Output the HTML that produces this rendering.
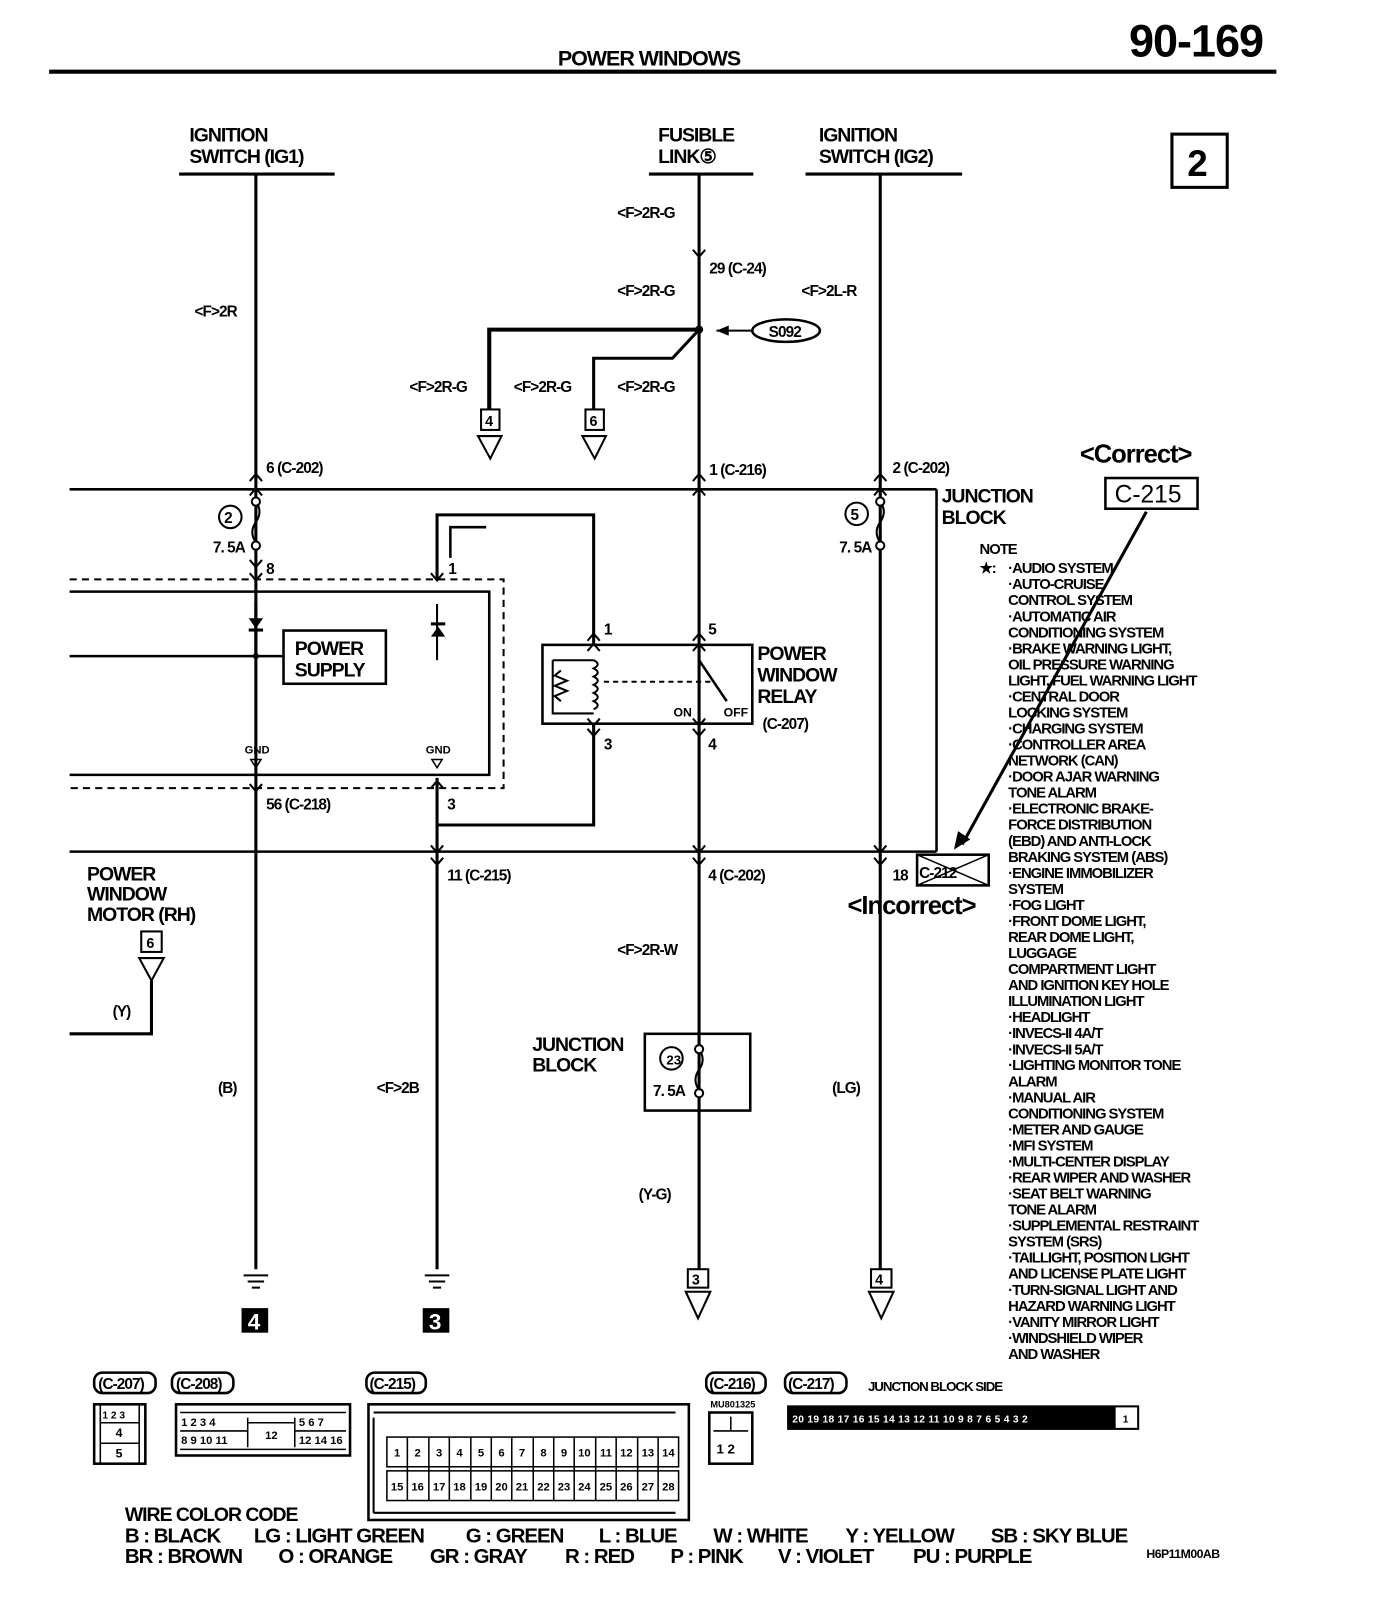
<!DOCTYPE html>
<html><head><meta charset="utf-8"><style>
html,body{margin:0;padding:0;background:#fff;}
svg{display:block;}
text{font-family:"Liberation Sans",sans-serif;font-weight:bold;fill:#000;}
.t{font-size:19px;letter-spacing:-1px;}
.s{font-size:15px;letter-spacing:-0.9px;}
.n{font-size:14.5px;letter-spacing:-1px;}
.w{font-size:20px;letter-spacing:-1px;}
.p{font-size:11px;text-anchor:middle;}
</style></head><body>
<svg width="1392" height="1606" viewBox="0 0 1360 1569" xmlns="http://www.w3.org/2000/svg">
<rect width="1360" height="1569" fill="#fff"/>
<g fill="none" stroke="#000">
<line x1="48" y1="70" x2="1247" y2="70" stroke-width="4"/>
<rect x="1145" y="131" width="54" height="52" stroke-width="3"/>
<line x1="175" y1="170" x2="327" y2="170" stroke-width="3"/>
<line x1="634" y1="170" x2="736" y2="170" stroke-width="3"/>
<line x1="787" y1="170" x2="940" y2="170" stroke-width="3"/>
<line x1="250" y1="170" x2="250" y2="1240" stroke-width="3"/>
<line x1="683" y1="170" x2="683" y2="1240" stroke-width="3"/>
<line x1="860" y1="170" x2="860" y2="1240" stroke-width="3"/>
<line x1="427" y1="760" x2="427" y2="1240" stroke-width="3"/>
<line x1="68" y1="478" x2="915" y2="478" stroke-width="2.5"/>
<line x1="915" y1="478" x2="915" y2="832" stroke-width="2.5"/>
<line x1="68" y1="832" x2="915" y2="832" stroke-width="2.5"/>
<path d="M68 566 H492 V770 H68" stroke-width="2" stroke-dasharray="7,5"/>
<path d="M68 578 H478 V757 H68" stroke-width="2.5"/>
<line x1="68" y1="641" x2="277" y2="641" stroke-width="2.5"/>
<rect x="277" y="616" width="100" height="52" stroke-width="2.5"/>
<line x1="250" y1="588" x2="250" y2="641" stroke-width="3"/>
<path d="M427 566 V503 H580 V630" stroke-width="3"/>
<path d="M440 545 V515 H475" stroke-width="2.5"/>
<path d="M427 590 V645" stroke-width="2"/>
<path d="M580 707 V806 H427" stroke-width="3"/>
<rect x="530" y="630" width="205" height="77" stroke-width="2.5"/>
<path d="M540 645 V697 H580 M540 645 H580" stroke-width="2"/>
<path d="M548 655 l-6 5 l12 5 l-12 5 l12 5 l-12 5 l6 5" stroke-width="2"/>
<path d="M580 645 q8 4 0 8 q8 4 0 8 q8 4 0 8 q8 4 0 8 q8 4 0 8 q8 4 0 8" stroke-width="2"/>
<line x1="590" y1="666" x2="695" y2="666" stroke-width="2" stroke-dasharray="5,4"/>
<line x1="683" y1="645" x2="710" y2="685" stroke-width="2.5"/>
<path d="M683 322 H478 V400" stroke-width="4"/>
<path d="M683 322 L657 350 H580 V400" stroke-width="3"/>
<ellipse cx="768" cy="323" rx="33" ry="11" stroke-width="2.5"/>
<line x1="735" y1="323" x2="700" y2="323" stroke-width="2"/>
<rect x="470" y="400" width="18" height="20" stroke-width="2"/>
<rect x="572" y="400" width="18" height="20" stroke-width="2"/>
<path d="M467 426 H490 L479 448 Z M569 426 H592 L581 448 Z" stroke-width="2"/>
<path d="M250 490 q7 10 0 20 q-7 10 0 20" stroke-width="2"/>
<path d="M860 490 q7 10 0 20 q-7 10 0 20" stroke-width="2"/>
<path d="M683 1025 q7 10 0 20 q-7 10 0 20" stroke-width="2"/>
<rect x="630" y="1010" width="103" height="75" stroke-width="2.5"/>
<rect x="138" y="910" width="20" height="20" stroke-width="2"/>
<path d="M136 936 H160 L148 958 Z" stroke-width="2"/>
<path d="M148 958 V1010 H68" stroke-width="3"/>
<rect x="672" y="1240" width="20" height="18" stroke-width="2"/>
<rect x="851" y="1240" width="20" height="18" stroke-width="2"/>
<path d="M670 1262 H694 L682 1288 Z M849 1262 H873 L861 1288 Z" stroke-width="2"/>
<path d="M238 1246 H262 M242 1252 H258 M246 1258 H254 M415 1246 H439 M419 1252 H435 M423 1258 H431" stroke-width="2"/>
<line x1="1120" y1="500" x2="940" y2="825" stroke-width="3"/>
<rect x="1080" y="467" width="90" height="30" stroke-width="2.5"/>
<rect x="896" y="835" width="70" height="30" stroke-width="2.5"/>
<path d="M896 835 L966 865 M966 835 L896 865" stroke-width="1.5"/>
<path d="M677 244 l6 7 l6 -7 M244 470 l6 -7 l6 7 M244 484 l6 -7 l6 7 M677 470 l6 -7 l6 7 M677 484 l6 -7 l6 7 M854 470 l6 -7 l6 7 M854 484 l6 -7 l6 7
M244 547 l6 7 l6 -7 M244 560 l6 7 l6 -7 M421 560 l6 7 l6 -7 M574 626 l6 -7 l6 7 M574 636 l6 -7 l6 7 M677 626 l6 -7 l6 7 M677 636 l6 -7 l6 7
M574 702 l6 7 l6 -7 M574 712 l6 7 l6 -7 M677 702 l6 7 l6 -7 M677 712 l6 7 l6 -7 M244 766 l6 7 l6 -7 M421 770 l6 -7 l6 7
M421 826 l6 7 l6 -7 M421 838 l6 7 l6 -7 M677 826 l6 7 l6 -7 M677 838 l6 7 l6 -7 M854 826 l6 7 l6 -7 M854 838 l6 7 l6 -7" stroke-width="2"/>
</g>
<g fill="#000">
<circle cx="250" cy="490" r="4" fill="#fff" stroke="#000" stroke-width="2"/>
<circle cx="250" cy="533" r="4" fill="#fff" stroke="#000" stroke-width="2"/>
<circle cx="860" cy="490" r="4" fill="#fff" stroke="#000" stroke-width="2"/>
<circle cx="860" cy="533" r="4" fill="#fff" stroke="#000" stroke-width="2"/>
<circle cx="683" cy="1025" r="4" fill="#fff" stroke="#000" stroke-width="2"/>
<circle cx="683" cy="1068" r="4" fill="#fff" stroke="#000" stroke-width="2"/>
<circle cx="683" cy="322" r="4"/>
<circle cx="250" cy="641" r="3"/>
<polygon points="243,604 257,604 250,614"/><rect x="243" y="614" width="14" height="3"/>
<polygon points="421,622 435,622 428,612"/><rect x="421" y="608" width="14" height="3"/>
<polygon points="700,323 712,318 712,328"/>
<polygon points="932,830 936,812 948,820"/>
<rect x="236" y="1278" width="26" height="24"/>
<rect x="413" y="1278" width="26" height="24"/>
<circle cx="225" cy="505" r="11" fill="#fff" stroke="#000" stroke-width="2"/>
<circle cx="837" cy="502" r="11" fill="#fff" stroke="#000" stroke-width="2"/>
<circle cx="656" cy="1034" r="11" fill="#fff" stroke="#000" stroke-width="2"/>
</g>
<text x="545" y="64" class="t" style="font-size:21px">POWER WINDOWS</text>
<text x="1103" y="55" style="font-size:44px;letter-spacing:-1px">90-169</text>
<text x="1160" y="172" style="font-size:36px">2</text>
<text x="185" y="138" class="t">IGNITION</text><text x="185" y="159" class="t">SWITCH (IG1)</text>
<text x="643" y="138" class="t">FUSIBLE</text><text x="643" y="159" class="t">LINK⑤</text>
<text x="800" y="138" class="t">IGNITION</text><text x="800" y="159" class="t">SWITCH (IG2)</text>
<text x="603" y="213" class="s">&lt;F&gt;2R-G</text>
<text x="693" y="267" class="s">29 (C-24)</text>
<text x="603" y="289" class="s">&lt;F&gt;2R-G</text>
<text x="783" y="289" class="s">&lt;F&gt;2L-R</text>
<text x="190" y="309" class="s">&lt;F&gt;2R</text>
<text x="751" y="329" class="s">S092</text>
<text x="400" y="383" class="s">&lt;F&gt;2R-G</text>
<text x="502" y="383" class="s">&lt;F&gt;2R-G</text>
<text x="603" y="383" class="s">&lt;F&gt;2R-G</text>
<text x="474" y="416" style="font-size:14px">4</text>
<text x="576" y="416" style="font-size:14px">6</text>
<text x="260" y="462" class="s">6 (C-202)</text>
<text x="693" y="464" class="s">1 (C-216)</text>
<text x="872" y="462" class="s">2 (C-202)</text>
<text x="1055" y="452" style="font-size:25px;letter-spacing:-1px">&lt;Correct&gt;</text>
<text x="1089" y="491" style="font-size:24px;font-weight:normal">C-215</text>
<text x="920" y="491" class="t">JUNCTION</text><text x="920" y="512" class="t">BLOCK</text>
<text x="219" y="511" style="font-size:15px">2</text>
<text x="831" y="508" style="font-size:15px">5</text>
<text x="208" y="540" class="s">7. 5A</text>
<text x="820" y="540" class="s">7. 5A</text>
<text x="260" y="561" class="s">8</text>
<text x="438" y="561" class="s">1</text>
<text x="288" y="640" class="t">POWER</text><text x="288" y="661" class="t">SUPPLY</text>
<text x="590" y="620" class="s">1</text><text x="692" y="620" class="s">5</text>
<text x="740" y="645" class="t">POWER</text><text x="740" y="666" class="t">WINDOW</text><text x="740" y="687" class="t">RELAY</text>
<text x="658" y="700" style="font-size:12px">ON</text><text x="707" y="700" style="font-size:12px">OFF</text>
<text x="745" y="712" class="s">(C-207)</text>
<text x="590" y="732" class="s">3</text><text x="692" y="732" class="s">4</text>
<text x="239" y="736" style="font-size:11px">GND</text><text x="416" y="736" style="font-size:11px">GND</text>
<polygon points="245,742 255,742 250,750" fill="none" stroke="#000" stroke-width="1.5"/>
<polygon points="422,742 432,742 427,750" fill="none" stroke="#000" stroke-width="1.5"/>
<text x="260" y="791" class="s">56 (C-218)</text>
<text x="437" y="791" class="s">3</text>
<text x="437" y="860" class="s">11 (C-215)</text>
<text x="692" y="860" class="s">4 (C-202)</text>
<text x="872" y="860" class="s">18</text>
<text x="898" y="858" class="s">C-212</text>
<text x="828" y="893" style="font-size:25px;letter-spacing:-1px">&lt;Incorrect&gt;</text>
<text x="85" y="860" class="t">POWER</text><text x="85" y="880" class="t">WINDOW</text><text x="85" y="900" class="t">MOTOR (RH)</text>
<text x="143" y="926" style="font-size:14px">6</text>
<text x="110" y="993" class="s">(Y)</text>
<text x="603" y="933" class="s">&lt;F&gt;2R-W</text>
<text x="520" y="1027" class="t">JUNCTION</text><text x="520" y="1047" class="t">BLOCK</text>
<text x="651" y="1040" style="font-size:13px">23</text>
<text x="638" y="1071" class="s">7. 5A</text>
<text x="213" y="1068" class="s">(B)</text>
<text x="368" y="1068" class="s">&lt;F&gt;2B</text>
<text x="813" y="1068" class="s">(LG)</text>
<text x="624" y="1172" class="s">(Y-G)</text>
<text x="676" y="1255" style="font-size:14px">3</text>
<text x="855" y="1255" style="font-size:14px">4</text>
<text x="242" y="1299" style="font-size:22px;fill:#fff">4</text>
<text x="419" y="1299" style="font-size:22px;fill:#fff">3</text>
<text x="957" y="541" class="n">NOTE</text>
<text x="957" y="560" class="n">★:</text>
<text x="985" y="560" class="n">·AUDIO SYSTEM</text>
<text x="985" y="575.6" class="n">·AUTO-CRUISE</text>
<text x="985" y="591.3" class="n">CONTROL SYSTEM</text>
<text x="985" y="607" class="n">·AUTOMATIC AIR</text>
<text x="985" y="622.6" class="n">CONDITIONING SYSTEM</text>
<text x="985" y="638.3" class="n">·BRAKE WARNING LIGHT,</text>
<text x="985" y="654" class="n">OIL PRESSURE WARNING</text>
<text x="985" y="669.6" class="n">LIGHT, FUEL WARNING LIGHT</text>
<text x="985" y="685.3" class="n">·CENTRAL DOOR</text>
<text x="985" y="701" class="n">LOCKING SYSTEM</text>
<text x="985" y="716.6" class="n">·CHARGING SYSTEM</text>
<text x="985" y="732.3" class="n">·CONTROLLER AREA</text>
<text x="985" y="748" class="n">NETWORK (CAN)</text>
<text x="985" y="763.6" class="n">·DOOR AJAR WARNING</text>
<text x="985" y="779.3" class="n">TONE ALARM</text>
<text x="985" y="795" class="n">·ELECTRONIC BRAKE-</text>
<text x="985" y="810.6" class="n">FORCE DISTRIBUTION</text>
<text x="985" y="826.3" class="n">(EBD) AND ANTI-LOCK</text>
<text x="985" y="842" class="n">BRAKING SYSTEM (ABS)</text>
<text x="985" y="857.6" class="n">·ENGINE IMMOBILIZER</text>
<text x="985" y="873.3" class="n">SYSTEM</text>
<text x="985" y="889" class="n">·FOG LIGHT</text>
<text x="985" y="904.6" class="n">·FRONT DOME LIGHT,</text>
<text x="985" y="920.3" class="n">REAR DOME LIGHT,</text>
<text x="985" y="936" class="n">LUGGAGE</text>
<text x="985" y="951.6" class="n">COMPARTMENT LIGHT</text>
<text x="985" y="967.3" class="n">AND IGNITION KEY HOLE</text>
<text x="985" y="983" class="n">ILLUMINATION LIGHT</text>
<text x="985" y="998.6" class="n">·HEADLIGHT</text>
<text x="985" y="1014.3" class="n">·INVECS-II 4A/T</text>
<text x="985" y="1030" class="n">·INVECS-II 5A/T</text>
<text x="985" y="1045.6" class="n">·LIGHTING MONITOR TONE</text>
<text x="985" y="1061.3" class="n">ALARM</text>
<text x="985" y="1077" class="n">·MANUAL AIR</text>
<text x="985" y="1092.6" class="n">CONDITIONING SYSTEM</text>
<text x="985" y="1108.3" class="n">·METER AND GAUGE</text>
<text x="985" y="1124" class="n">·MFI SYSTEM</text>
<text x="985" y="1139.6" class="n">·MULTI-CENTER DISPLAY</text>
<text x="985" y="1155.3" class="n">·REAR WIPER AND WASHER</text>
<text x="985" y="1171" class="n">·SEAT BELT WARNING</text>
<text x="985" y="1186.6" class="n">TONE ALARM</text>
<text x="985" y="1202.3" class="n">·SUPPLEMENTAL RESTRAINT</text>
<text x="985" y="1218" class="n">SYSTEM (SRS)</text>
<text x="985" y="1233.6" class="n">·TAILLIGHT, POSITION LIGHT</text>
<text x="985" y="1249.3" class="n">AND LICENSE PLATE LIGHT</text>
<text x="985" y="1265" class="n">·TURN-SIGNAL LIGHT AND</text>
<text x="985" y="1280.6" class="n">HAZARD WARNING LIGHT</text>
<text x="985" y="1296.3" class="n">·VANITY MIRROR LIGHT</text>
<text x="985" y="1312" class="n">·WINDSHIELD WIPER</text>
<text x="985" y="1327.6" class="n">AND WASHER</text>
<g fill="none" stroke="#000" stroke-width="2.5">
<rect x="92" y="1341" width="60" height="20" rx="8"/>
<rect x="168" y="1341" width="60" height="20" rx="8"/>
<rect x="358" y="1341" width="58" height="20" rx="8"/>
<rect x="690" y="1341" width="58" height="20" rx="8"/>
<rect x="767" y="1341" width="60" height="20" rx="8"/>
<rect x="92" y="1372" width="50" height="58"/>
<path d="M98 1372 V1430 M136 1372 V1430 M98 1390 H136 M98 1410 H136" stroke-width="1.5"/>
<rect x="172" y="1372" width="170" height="50"/>
<path d="M176 1380 H338 M176 1416 H338 M176 1398 H242 M288 1398 H338 M242 1385 V1414 M288 1385 V1414 M242 1390 H288" stroke-width="1.5"/>
<rect x="360" y="1372" width="313" height="113"/>
<rect x="378" y="1404" width="285" height="29" stroke-width="1.5"/>
<rect x="378" y="1437" width="285" height="29" stroke-width="1.5"/>
<path d="M398 1404 V1466 M419 1404 V1466 M439 1404 V1466 M460 1404 V1466 M480 1404 V1466 M500 1404 V1466 M521 1404 V1466 M541 1404 V1466 M561 1404 V1466 M582 1404 V1466 M602 1404 V1466 M623 1404 V1466 M643 1404 V1466" stroke-width="1.5"/>
<path d="M365 1380 H660 M365 1478 H660 M365 1385 V1478" stroke-width="2"/>
<rect x="693" y="1380" width="42" height="50"/>
<path d="M697 1398 H731 M714 1384 V1398" stroke-width="1.5"/>
<rect x="770" y="1374" width="342" height="22" stroke-width="2"/>
</g>
<rect x="770" y="1374" width="320" height="22" fill="#000"/>
<text x="96" y="1357" class="s">(C-207)</text>
<text x="172" y="1357" class="s">(C-208)</text>
<text x="361" y="1357" class="s">(C-215)</text>
<text x="693" y="1357" class="s">(C-216)</text>
<text x="770" y="1357" class="s">(C-217)</text>
<text x="848" y="1359" style="font-size:13px;letter-spacing:-1px">JUNCTION BLOCK SIDE</text>
<text x="694" y="1375" style="font-size:9px">MU801325</text>
<text x="100" y="1386" style="font-size:10px">1 2 3</text>
<text x="113" y="1404" style="font-size:12px">4</text>
<text x="113" y="1424" style="font-size:12px">5</text>
<text x="177" y="1393" style="font-size:11px">1 2 3 4</text>
<text x="177" y="1411" style="font-size:11px">8 9 10 11</text>
<text x="259" y="1406" style="font-size:11px">12</text>
<text x="292" y="1393" style="font-size:11px">5 6 7</text>
<text x="292" y="1411" style="font-size:11px">12 14 16</text>
<text x="388" y="1423" class="p">1</text><text x="408" y="1423" class="p">2</text><text x="429" y="1423" class="p">3</text><text x="449" y="1423" class="p">4</text><text x="470" y="1423" class="p">5</text><text x="490" y="1423" class="p">6</text><text x="510" y="1423" class="p">7</text><text x="531" y="1423" class="p">8</text><text x="551" y="1423" class="p">9</text><text x="571" y="1423" class="p">10</text><text x="592" y="1423" class="p">11</text><text x="612" y="1423" class="p">12</text><text x="633" y="1423" class="p">13</text><text x="653" y="1423" class="p">14</text>
<text x="388" y="1456" class="p">15</text><text x="408" y="1456" class="p">16</text><text x="429" y="1456" class="p">17</text><text x="449" y="1456" class="p">18</text><text x="470" y="1456" class="p">19</text><text x="490" y="1456" class="p">20</text><text x="510" y="1456" class="p">21</text><text x="531" y="1456" class="p">22</text><text x="551" y="1456" class="p">23</text><text x="571" y="1456" class="p">24</text><text x="592" y="1456" class="p">25</text><text x="612" y="1456" class="p">26</text><text x="633" y="1456" class="p">27</text><text x="653" y="1456" class="p">28</text>
<text x="700" y="1420" style="font-size:13px">1 2</text>
<text x="774" y="1390" style="font-size:10px;fill:#fff;letter-spacing:0.3px">20 19 18 17 16 15 14 13 12 11 10 9 8 7 6 5 4 3 2</text>
<text x="1097" y="1390" style="font-size:10px">1</text>
<text x="122" y="1486" class="t">WIRE COLOR CODE</text>
<text x="122" y="1507" class="w">B : BLACK</text>
<text x="248" y="1507" class="w">LG : LIGHT GREEN</text>
<text x="455" y="1507" class="w">G : GREEN</text>
<text x="585" y="1507" class="w">L : BLUE</text>
<text x="697" y="1507" class="w">W : WHITE</text>
<text x="826" y="1507" class="w">Y : YELLOW</text>
<text x="968" y="1507" class="w">SB : SKY BLUE</text>
<text x="122" y="1527" class="w">BR : BROWN</text>
<text x="272" y="1527" class="w">O : ORANGE</text>
<text x="420" y="1527" class="w">GR : GRAY</text>
<text x="552" y="1527" class="w">R : RED</text>
<text x="655" y="1527" class="w">P : PINK</text>
<text x="760" y="1527" class="w">V : VIOLET</text>
<text x="892" y="1527" class="w">PU : PURPLE</text>
<text x="1120" y="1522" style="font-size:12px;letter-spacing:-0.5px">H6P11M00AB</text>
</svg>
</body></html>
